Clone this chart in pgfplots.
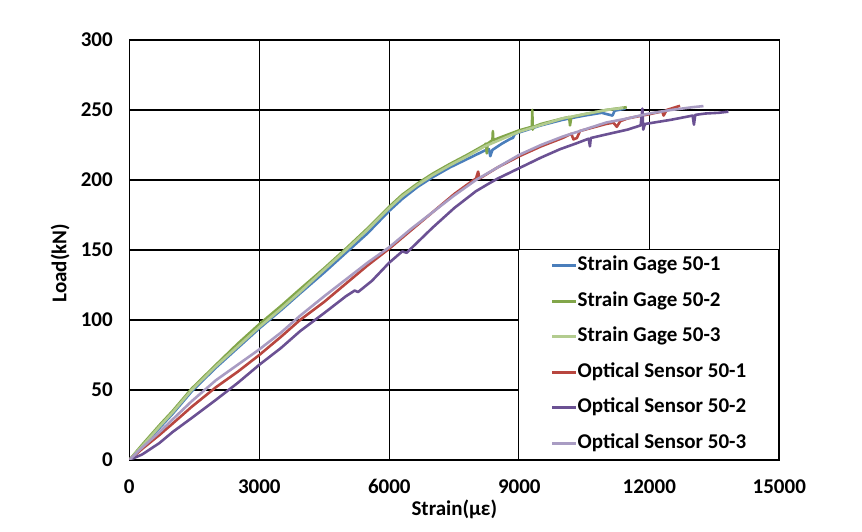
\documentclass[border=0pt]{standalone}
\usepackage{fontspec}
\setmainfont{Carlito}
\usepackage{pgfplots}
\pgfplotsset{compat=1.18}
\definecolor{sga}{HTML}{4A7EBB}
\definecolor{sgb}{HTML}{82A64A}
\definecolor{sgc}{HTML}{B3CC8F}
\definecolor{osa}{HTML}{B8463F}
\definecolor{osb}{HTML}{6B5193}
\definecolor{osc}{HTML}{A99CC3}
\newcommand{\bigb}{\fontsize{21}{25}\selectfont\bfseries}
\begin{document}
\begin{tikzpicture}
\path[use as bounding box] (-129.3pt,-72pt) rectangle (732.7pt,460pt);
\begin{axis}[
  at={(0pt,0pt)}, anchor=south west,
  scale only axis, width=650pt, height=420pt,
  xmin=0, xmax=15000, ymin=0, ymax=300,
  xtick={0,3000,6000,9000,12000,15000},
  ytick={0,50,100,150,200,250,300},
  scaled x ticks=false,
  /pgf/number format/1000 sep={},
  /pgf/number format/assume math mode=true,
  major tick length=0pt, tick style={draw=none},
  grid=major, grid style={black, line width=1.25pt},
  axis line style={black, line width=1.25pt},
  tick label style={font=\bigb},
  xticklabel style={yshift=-16pt},
  yticklabel style={xshift=-13pt},
  xlabel={Strain(με)}, ylabel={Load(kN)},
  label style={font=\bigb},
  xlabel style={at={(axis description cs:0.5,-0.0952)}, anchor=north, inner sep=0pt},
  ylabel style={at={(axis description cs:-0.1062,0.469)}, anchor=center, inner sep=0pt},
  legend style={at={(rel axis cs:1,0)}, anchor=south east, draw=black, line width=1pt,
    fill=white, font=\bigb, inner xsep=32.5pt, inner ysep=7pt, row sep=17.5pt,
    nodes={inner sep=0pt, text height=14pt, text depth=4pt},
    /tikz/every even column/.append style={column sep=0pt}},
  legend cell align=left,
  legend image code/.code={\draw[#1, line width=3pt] (0pt,0pt) -- (24pt,0pt);},
  every axis plot/.append style={line width=2.6pt, line join=round},
]
\addplot[sga] coordinates {
(0,0) (300,10) (700,23) (1000,33) (1440,49) (2000,66) (2500,80) (3000,94) (3500,107)
(3940,119) (4500,134) (5000,148) (5500,162) (6000,178) (6300,186.5) (6650,195) (7000,202)
(7400,209) (7800,215) (8200,221) (8300,222) (8330,217) (8380,221.5) (8600,226) (8800,229.5)
(8850,230) (8900,233) (9000,234) (9300,237) (9500,239) (10000,243) (10500,246) (10900,248)
(11150,246) (11200,249.5) (11450,251)};
\addlegendentry{Strain Gage 50-1}
\addplot[sgb] coordinates {
(0,0) (300,11) (700,25) (1000,35) (1440,51) (2000,68) (2500,83) (3000,97) (3500,110)
(3940,122) (4500,137) (5000,151) (5500,165.5) (6000,181) (6300,189.5) (6650,197.5) (7000,204.5)
(7400,211.5) (7800,218) (8200,225) (8230,226) (8250,219) (8270,226) (8380,228.5) (8390,235)
(8400,228.5) (9000,235.5) (9290,238) (9300,250) (9310,236) (9330,238) (9500,240) (10000,244)
(10150,245) (10170,239) (10200,245) (10500,247) (11000,250) (11480,252)};
\addlegendentry{Strain Gage 50-2}
\addplot[sgc] coordinates {
(0,0) (300,10) (700,24) (1000,34) (1440,50) (2000,67) (2500,81) (3000,95) (3500,108)
(3940,120) (4500,136) (5000,150) (5500,164.5) (6000,180) (6300,188.5) (6650,196.5) (7000,203.5)
(7400,210.5) (7800,217) (8200,224) (9000,234.5) (10000,244) (10500,247) (11000,250) (11400,251.5)};
\addlegendentry{Strain Gage 50-3}
\addplot[osa] coordinates {
(0,0) (300,8) (700,18) (1000,26) (1440,38) (2000,52) (2500,63) (3000,75) (3500,88)
(3940,100) (4500,113) (5000,126) (5500,139) (6000,151) (6500,164) (7000,177) (7500,190)
(7900,199) (8000,201) (8050,206) (8080,201) (8500,209) (9000,217) (9500,224) (10000,230)
(10200,233) (10250,229) (10330,230) (10400,235) (11000,240) (11170,241) (11250,238)
(11330,242) (11500,244) (12000,247) (12300,249) (12330,246) (12400,250) (12710,253)};
\addlegendentry{Optical Sensor 50-1}
\addplot[osb] coordinates {
(0,0) (300,4) (690,12) (1000,20) (1440,30) (2000,43) (2500,55) (3000,68) (3500,80)
(3940,92) (4500,105) (5000,117) (5200,121) (5280,120) (5400,123) (5600,128) (6000,141)
(6300,149) (6400,148) (6600,154) (7000,166) (7500,180) (8000,192) (8300,197.5) (8500,201)
(9000,208.5) (9500,216) (9940,222) (10300,226) (10600,229.5) (10630,224) (10650,230)
(11000,232.5) (11500,236) (11800,239) (11840,251) (11860,236) (11900,240) (12000,240.5)
(12500,243) (13000,246) (13030,239.5) (13060,246.5) (13300,247.5) (13600,248) (13825,248.8)};
\addlegendentry{Optical Sensor 50-2}
\addplot[osc] coordinates {
(0,0) (300,9) (700,20) (1000,29) (1440,42) (2000,57) (2500,68) (3000,79) (3500,91)
(3940,103) (4500,117) (5000,129) (5500,141) (6000,152) (6500,165) (7000,177) (7500,189)
(8000,200) (8500,209) (9000,218) (9500,225) (10000,231) (10500,236) (11000,241)
(11500,244) (12000,247.5) (12500,250) (13000,252) (13250,252.8)};
\addlegendentry{Optical Sensor 50-3}
\end{axis}
\end{tikzpicture}
\end{document}
